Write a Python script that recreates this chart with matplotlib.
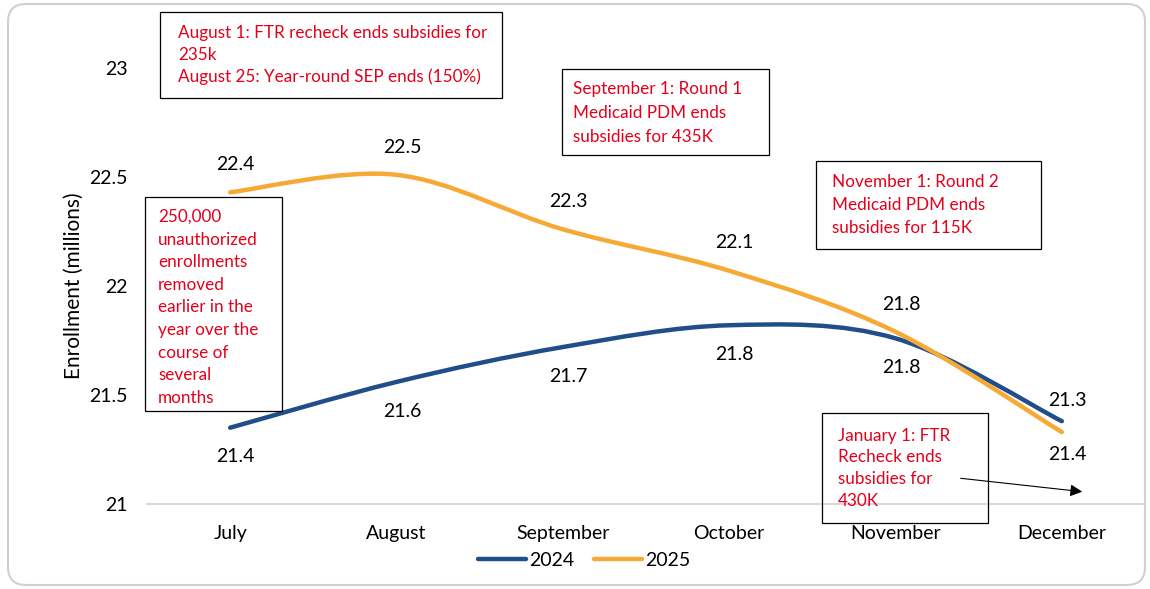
import numpy as np
import matplotlib
matplotlib.use("Agg")
from matplotlib import pyplot as plt
from matplotlib.path import Path
from matplotlib.patches import PathPatch, FancyBboxPatch, Rectangle, FancyArrowPatch
from matplotlib.lines import Line2D

plt.rcParams['font.family'] = ['Lato', 'DejaVu Sans']

months = ["July", "August", "September", "October", "November", "December"]
enroll_2024 = [21.35, 21.56, 21.72, 21.82, 21.76, 21.38]
enroll_2025 = [22.43, 22.51, 22.26, 22.07, 21.79, 21.33]
labels_2024 = ["21.4", "21.6", "21.7", "21.8", "21.8", "21.3"]
labels_2025 = ["22.4", "22.5", "22.3", "22.1", "21.8", "21.4"]

blue = "#1f4e8a"
orange = "#f6a935"
red = "#e3001b"

W, H = 1150, 589


def smooth_path(xs, ys):
    # Excel style smoothed line: cubic bezier segments (Catmull-Rom control points)
    p = np.column_stack([xs, ys]).astype(float)
    ext = np.vstack([p[0], p, p[-1]])
    verts = [p[0]]
    codes = [Path.MOVETO]
    for i in range(len(p) - 1):
        p0, p1, p2, p3 = ext[i], ext[i + 1], ext[i + 2], ext[i + 3]
        verts += [p1 + (p2 - p0) / 6, p2 - (p3 - p1) / 6, p2]
        codes += [Path.CURVE4] * 3
    return Path(verts, codes)


def fx(px):
    return px / W


def fy(py):
    return 1 - py / H


fig = plt.figure(figsize=(11.5, 5.89), dpi=100)
ax = fig.add_axes([fx(147), fy(504), fx(1145) - fx(147), fy(68) - fy(504)])
x = np.arange(len(months))

ax.add_patch(PathPatch(smooth_path(x, enroll_2024), fill=False, edgecolor=blue,
                       lw=3.2, capstyle="round", zorder=3))
ax.add_patch(PathPatch(smooth_path(x, enroll_2025), fill=False, edgecolor=orange,
                       lw=3.2, capstyle="round", zorder=3))

# data labels (2024 under the line, 2025 over it; last pair flipped)
for i in range(len(months)):
    off24 = -21 if i < 5 else 15
    off25 = 20 if i < 5 else -16
    ax.annotate(labels_2024[i], (x[i], enroll_2024[i]), xytext=(4, off24),
                textcoords="offset points", ha="center", va="center", fontsize=14)
    ax.annotate(labels_2025[i], (x[i], enroll_2025[i]), xytext=(4, off25),
                textcoords="offset points", ha="center", va="center", fontsize=14)

ax.set_xlim(-0.5, 5.5)
ax.set_ylim(21, 23)
ax.set_xticks(x)
ax.set_xticklabels(months, fontsize=14)
ax.set_yticks([21, 21.5, 22, 22.5, 23])
ax.set_yticklabels(["21", "21.5", "22", "22.5", "23"], fontsize=14)
ax.tick_params(axis="y", length=0, pad=14)
ax.tick_params(axis="x", length=0, pad=15)
for s in ["top", "right", "left"]:
    ax.spines[s].set_visible(False)
ax.spines["bottom"].set_color("#d9d9d9")
ax.spines["bottom"].set_linewidth(1.5)
ax.set_ylabel("Enrollment (millions)", fontsize=15, labelpad=4)

# annotation boxes: (left, top, right, bottom) in pixels, text x, first line y, line step
notes = [
    ((160, 12, 502, 98), 178, 33, 22,
     ["August 1: FTR recheck ends subsidies for", "235k",
      "August 25: Year-round SEP ends (150%)"]),
    ((562, 69, 769, 155), 573, 89, 24,
     ["September 1: Round 1", "Medicaid PDM ends", "subsidies for 435K"]),
    ((816, 161, 1041, 249), 832, 182, 23,
     ["November 1: Round 2", "Medicaid PDM ends", "subsidies for 115K"]),
    ((145, 197, 282, 411), 158, 217, 22.6,
     ["250,000", "unauthorized", "enrollments", "removed", "earlier in the",
      "year over the", "course of", "several", "months"]),
    ((822, 413, 988, 523), 838, 436, 21.5,
     ["January 1: FTR", "Recheck ends", "subsidies for", "430K"]),
]
for (l, t, r, b), tx, ty, step, lines in notes:
    fig.patches.append(Rectangle((fx(l), fy(b)), fx(r) - fx(l), fy(t) - fy(b),
                                 transform=fig.transFigure, facecolor="none",
                                 edgecolor="black", lw=0.9, zorder=5))
    for k, line in enumerate(lines):
        fig.text(fx(tx), fy(ty + k * step), line, color=red, fontsize=12.3,
                 ha="left", va="center", zorder=6)

fig.add_artist(FancyArrowPatch((958, H - 478), (1085, H - 492), transform=None,
                               arrowstyle="-|>", color="black", lw=0.8,
                               mutation_scale=18, zorder=7))

handles = [Line2D([], [], color=blue, lw=3.2, solid_capstyle="round"),
           Line2D([], [], color=orange, lw=3.2, solid_capstyle="round")]
fig.legend(handles, ["2024", "2025"], loc="center", bbox_to_anchor=(fx(584), fy(560)),
           ncol=2, frameon=False, fontsize=14, handlelength=2.5,
           handletextpad=0.15, columnspacing=1.0)

fig.patches.append(FancyBboxPatch((8, 4), 1137, 581,
                                  boxstyle="round,pad=0,rounding_size=18",
                                  transform=None, facecolor="none",
                                  edgecolor="#d0d0d0", lw=1.5))

fig.savefig("out.png", dpi=100)
